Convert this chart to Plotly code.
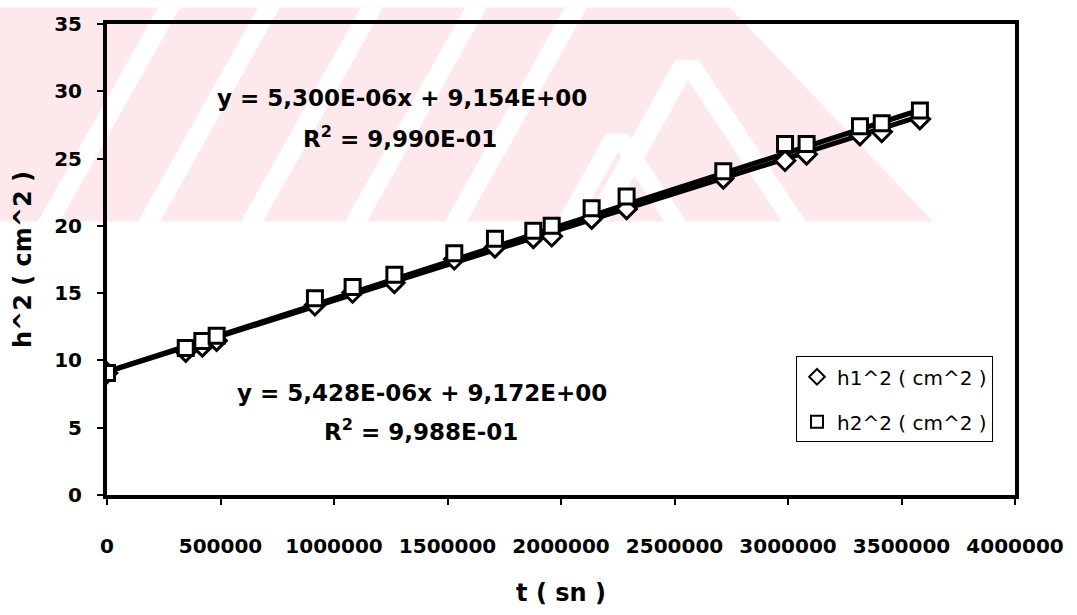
import plotly.graph_objects as go

# ---------------- data ----------------
t_sn = [0, 347000, 420000, 483000, 916000, 1082000, 1266000, 1530000, 1709000,
        1878000, 1959000, 2135000, 2289000, 2715000, 2987000, 3082000, 3317000,
        3413000, 3581000]
h1_sq = [9.07, 10.66, 11.04, 11.47, 14.10, 15.05, 15.77, 17.52, 18.40, 19.11,
         19.23, 20.54, 21.26, 23.53, 24.84, 25.32, 26.75, 26.99, 27.94]
h2_sq = [9.07, 10.93, 11.45, 11.83, 14.62, 15.46, 16.37, 17.97, 19.04, 19.64,
         20.00, 21.31, 22.19, 24.05, 26.08, 26.08, 27.40, 27.63, 28.58]
series_names = ["h1^2 ( cm^2 )", "h2^2 ( cm^2 )"]
trend_slope = [5.300e-06, 5.428e-06]
trend_intercept = [9.154, 9.172]
eq_texts = ["y = 5,300E-06x + 9,154E+00", "y = 5,428E-06x + 9,172E+00"]
r2_texts = ["R<sup>2</sup> = 9,990E-01", "R<sup>2</sup> = 9,988E-01"]
x_ticks = [0, 500000, 1000000, 1500000, 2000000, 2500000, 3000000, 3500000, 4000000]
y_ticks = [0, 5, 10, 15, 20, 25, 30, 35]

# ---------------- layout geometry (pixels) ----------------
W, H = 1077, 615
L, R, T, B = 107, 62, 17, 109
PW, PH = W - L - R, H - T - B


def px(xp):
    return (xp - L) / PW


def py(yp):
    return (H - B - yp) / PH


FONT = "DejaVu Sans"
fig = go.Figure()

# trendlines
x_end = max(t_sn)
for s, b in zip(trend_slope, trend_intercept):
    fig.add_trace(go.Scatter(x=[0, x_end], y=[b, s * x_end + b], mode="lines",
                             line=dict(color="black", width=5),
                             showlegend=False, hoverinfo="skip"))

fig.add_trace(go.Scatter(x=t_sn, y=h1_sq, mode="markers", name=series_names[0],
                         legendgroup="a",
                         marker=dict(symbol="diamond", size=15, color="white",
                                     line=dict(color="black", width=3))))
fig.add_trace(go.Scatter(x=t_sn, y=h2_sq, mode="markers", name=series_names[1],
                         legendgroup="b",
                         marker=dict(symbol="square", size=15, color="white",
                                     line=dict(color="black", width=3))))

# ---------------- watermark (faint pink pattern) ----------------
PINK = "#fde8ec"
shapes = []


def poly(pts, color):
    path = "M " + " L ".join(f"{px(a):.4f},{py(b):.4f}" for a, b in pts) + " Z"
    return dict(type="path", xref="paper", yref="paper", path=path,
                fillcolor=color, line=dict(width=0), layer="below")


shapes.append(poly([(0, 0), (730, 0), (933, 222), (0, 222)], PINK))
for bx in [38, 138, 241, 345, 445]:
    shapes.append(poly([(bx, 222), (bx + 22, 222), (bx + 142, 0), (bx + 120, 0)], "white"))
# white chevrons on the right
for ax, ay, w in [(675, 55, 24), (606, 131, 22)]:
    d = 222 - ay
    shapes.append(poly([(ax, ay), (ax + w, ay), (ax + w + d * 0.64, 222),
                        (ax + d * 0.64, 222)], "white"))
    shapes.append(poly([(ax, ay), (ax + w, ay), (ax + w - d * 0.54, 222),
                        (ax - d * 0.54, 222)], "white"))

annotations = [
    dict(text=eq_texts[0], x=px(402), y=py(94)),
    dict(text=r2_texts[0], x=px(400), y=py(134)),
    dict(text=eq_texts[1], x=px(422), y=py(400)),
    dict(text=r2_texts[1], x=px(421), y=py(438)),
]
for a in annotations:
    a.update(xref="paper", yref="paper", showarrow=False, xanchor="center",
             yanchor="middle", font=dict(family=FONT, size=23, color="black",
                                          weight="bold"))

fig.update_layout(
    width=W, height=H,
    margin=dict(l=L, r=R, t=T, b=B),
    paper_bgcolor="white", plot_bgcolor="rgba(0,0,0,0)",
    font=dict(family=FONT, color="black"),
    shapes=shapes, annotations=annotations,
    showlegend=True,
    legend=dict(x=px(796), y=py(362), xanchor="left", yanchor="top",
                bgcolor="white", bordercolor="black", borderwidth=1,
                font=dict(family=FONT, size=20, color="black"),
                tracegroupgap=16, itemsizing="constant", itemwidth=30),
)
fig.update_xaxes(range=[0, 4000000], tickvals=x_ticks,
                 ticktext=[str(v) for v in x_ticks],
                 showgrid=False, zeroline=False, showline=True, mirror=True,
                 linecolor="black", linewidth=4, ticks="outside", ticklen=6,
                 tickwidth=1.5, tickcolor="black", ticklabelstandoff=24,
                 tickfont=dict(family=FONT, size=20, color="black", weight="bold"),
                 title=dict(text="t ( sn )", standoff=28,
                            font=dict(family=FONT, size=24, color="black", weight="bold")))
fig.update_yaxes(range=[0, 35], tickvals=y_ticks,
                 showgrid=False, zeroline=False, showline=True, mirror=True,
                 linecolor="black", linewidth=4, ticks="outside", ticklen=6,
                 tickwidth=1.5, tickcolor="black", ticklabelstandoff=11,
                 tickfont=dict(family=FONT, size=20, color="black", weight="bold"),
                 title=dict(text="h^2 ( cm^2 )", standoff=17,
                            font=dict(family=FONT, size=24, color="black", weight="bold")))

fig.write_html("out.html")
